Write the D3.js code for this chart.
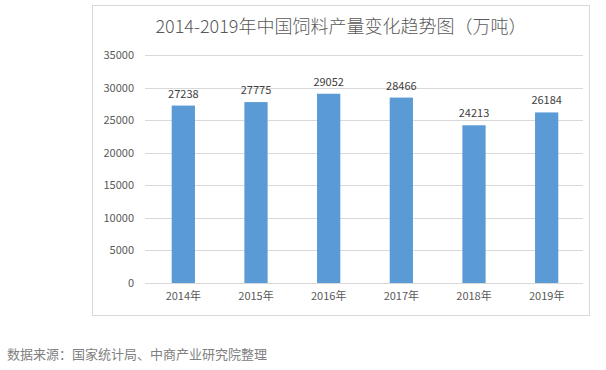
<!DOCTYPE html>
<meta charset="utf-8">
<style>
body { margin: 0; background: #fff; }
text { font-family: "Noto Sans CJK SC", "Open Sans", sans-serif; }
</style>
<div id="chart"></div>
<script src="https://cdn.jsdelivr.net/npm/d3@7"></script>
<script>

var years = ["2014年", "2015年", "2016年", "2017年", "2018年", "2019年"];
var output = [27238, 27775, 29052, 28466, 24213, 26184];
var yTicks = [0, 5000, 10000, 15000, 20000, 25000, 30000, 35000];

var width = 606, height = 370;

var svg = d3.select("#chart").append("svg")
    .attr("width", width)
    .attr("height", height);

// chart frame
svg.append("rect")
    .attr("x", 92.5).attr("y", 5.5)
    .attr("width", 497).attr("height", 310)
    .attr("fill", "#fff")
    .attr("stroke", "#d9d9d9");

var x = d3.scaleBand()
    .domain(years)
    .range([147, 583])
    .paddingInner(0.68)
    .paddingOuter(0.34);

var y = d3.scaleLinear()
    .domain([0, 35000])
    .range([283, 55]);

// gridlines
svg.append("g")
    .selectAll("line")
    .data(yTicks)
    .join("line")
    .attr("x1", 145).attr("x2", 583)
    .attr("y1", function(d) { return Math.round(y(d)) + 0.5; })
    .attr("y2", function(d) { return Math.round(y(d)) + 0.5; })
    .attr("stroke", "#d9d9d9");

// y axis labels
var yAxis = d3.axisLeft(y).tickValues(yTicks).tickFormat(d3.format("d")).tickSize(0).tickPadding(0);
svg.append("g")
    .attr("transform", "translate(134,0)")
    .call(yAxis)
    .call(function(g) { g.select(".domain").remove(); })
    .selectAll("text")
    .attr("fill", "#595959")
    .style("font-size", "11px");

// x axis labels
var xAxis = d3.axisBottom(x).tickSize(0).tickPadding(0);
svg.append("g")
    .attr("transform", "translate(0,292)")
    .call(xAxis)
    .call(function(g) { g.select(".domain").remove(); })
    .selectAll("text")
    .attr("fill", "#595959")
    .style("font-size", "11px");

// bars
svg.append("g")
    .selectAll("rect")
    .data(output)
    .join("rect")
    .attr("x", function(d, i) { return x(years[i]); })
    .attr("y", function(d) { return y(d); })
    .attr("width", x.bandwidth())
    .attr("height", function(d) { return y(0) - y(d); })
    .attr("fill", "#5b9bd5");

// value labels
svg.append("g")
    .selectAll("text")
    .data(output)
    .join("text")
    .attr("x", function(d, i) { return x(years[i]) + x.bandwidth() / 2; })
    .attr("y", function(d) { return y(d) - 8; })
    .attr("text-anchor", "middle")
    .attr("fill", "#404040")
    .style("font-size", "11px")
    .text(function(d) { return d; });

// title
svg.append("text")
    .attr("x", 341).attr("y", 33)
    .attr("text-anchor", "middle")
    .attr("fill", "#595959")
    .style("font-size", "18px")
    .style("font-weight", "300")
    .text("2014-2019年中国饲料产量变化趋势图（万吨）");

// source note
svg.append("text")
    .attr("x", 7).attr("y", 359)
    .attr("fill", "#808080")
    .style("font-size", "13px")
    .text("数据来源：国家统计局、中商产业研究院整理");

</script>
